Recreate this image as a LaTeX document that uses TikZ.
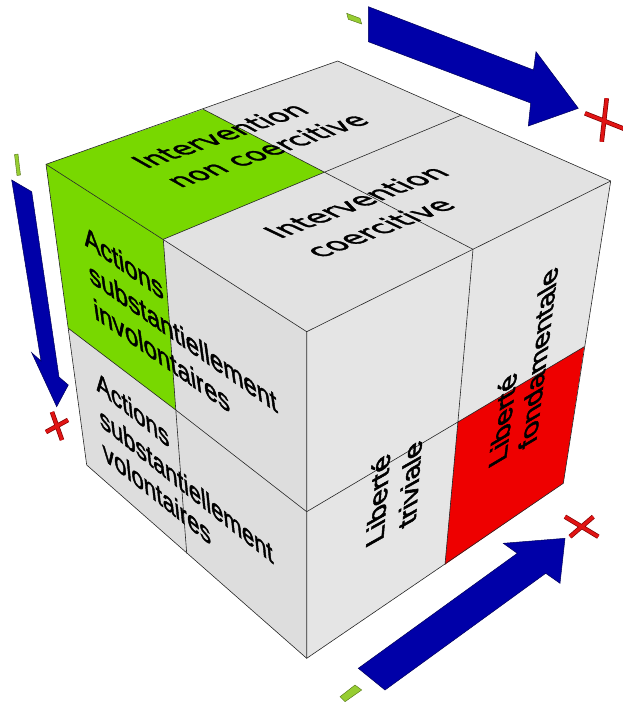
\documentclass[tikz,border=0pt]{standalone}
\usepackage{fontspec}
\setmainfont{Liberation Sans}
\newfontfamily\verd{DejaVu Sans}[FakeBold=1.6]
\newfontfamily\arl{Liberation Sans}[FakeBold=2]
\definecolor{topgray}{RGB}{226,226,226}
\definecolor{leftgray}{RGB}{221,221,221}
\definecolor{rightgray}{RGB}{229,229,229}
\definecolor{cubegreen}{RGB}{120,216,0}
\definecolor{cubered}{RGB}{238,0,0}
\definecolor{arrowblue}{RGB}{0,0,168}
\definecolor{arrowdark}{RGB}{0,0,90}
\definecolor{minusgreen}{RGB}{150,205,50}
\definecolor{minusdark}{RGB}{80,110,20}
\definecolor{plusred}{RGB}{225,20,20}
\definecolor{plusdark}{RGB}{130,0,0}
\begin{document}
\begin{tikzpicture}[x=1pt,y=1pt,
  edge/.style={draw=black!85, line width=0.6pt, line join=round},
  lbl/.style={inner sep=0pt, anchor=base west, transform shape, text=black},
  vfont/.style={font=\verd\fontsize{#1}{34}\selectfont},
  afont/.style={font=\arl\fontsize{#1}{34}\selectfont},
  blockarrow/.style={fill=arrowblue, draw=arrowdark, line width=0.5pt, line join=miter},
  minusmark/.style={fill=minusgreen, draw=minusdark, line width=0.4pt},
  plusout/.style={draw=plusdark, line width=4.6pt},
  plusin/.style={draw=plusred, line width=3.2pt}]
\useasboundingbox (0,0) rectangle (622,-704);
% cube corners
\coordinate (A) at (46,-164.3);
\coordinate (B) at (337.7,-61);
\coordinate (C) at (610.7,-181);
\coordinate (D) at (306.7,-331.7);
\coordinate (E) at (306.7,-658.3);
\coordinate (F) at (86.7,-465);
\coordinate (G) at (563.3,-483.3);
% mid points
\coordinate (ab) at (203.3,-109.3);
\coordinate (bc) at (461.7,-115);
\coordinate (ad) at (163.3,-239.3);
\coordinate (dc) at (473,-249.3);
\coordinate (tc) at (324.4,-172.2);
\coordinate (af) at (68.3,-328.3);
\coordinate (de) at (306.7,-511.7);
\coordinate (fe) at (186.7,-553.3);
\coordinate (lc) at (175.8,-410);
\coordinate (cg) at (584.3,-346.7);
\coordinate (eg) at (445,-564.5);
\coordinate (rc) at (457.9,-422);
% faces
\fill[topgray] (A)--(B)--(C)--(D)--cycle;
\fill[leftgray] (A)--(D)--(E)--(F)--cycle;
\fill[rightgray] (D)--(C)--(G)--(E)--cycle;
\fill[cubegreen] (A)--(ab)--(tc)--(ad)--cycle;
\fill[cubegreen] (A)--(ad)--(lc)--(af)--cycle;
\fill[cubered] (rc)--(cg)--(G)--(eg)--cycle;
% edges
\draw[edge] (A)--(B)--(C)--(G)--(E)--(F)--cycle;
\draw[edge] (A)--(D)--(C) (D)--(E);
\draw[edge] (ab)--(tc)--(dc) (ad)--(tc)--(bc);
\draw[edge] (ad)--(lc)--(fe) (af)--(lc)--(de);
\draw[edge] (dc)--(rc)--(eg) (de)--(rc)--(cg);
% texts on top face
\begin{scope}[shift={(146.4,-168.9)}, cm={0.9455,0.3256,-0.8713,0.4907,(0,0)}]
  \node[lbl, vfont=28.5] (t1a) at (0,0) {Intervention};
  \node[lbl, vfont=28.5] (t1b) at (0,-39) {non coercitive};
\end{scope}
\begin{scope}[shift={(280,-239)}, cm={0.9354,0.3535,-0.9022,0.4313,(0,0)}]
  \node[lbl, vfont=30] (t2a) at (0,0) {Intervention};
  \node[lbl, vfont=30] (t2b) at (0,-45) {coercitive};
\end{scope}
% texts on left face
\begin{scope}[shift={(85,-245)}, cm={0.8192,-0.5736,-0.134,0.991,(0,0)}]
  \node[lbl, afont=29.5] (t3a) at (0,0) {Actions};
  \node[lbl, afont=29.5] (t3b) at (0,-37) {substantiellement};
  \node[lbl, afont=29.5] (t3c) at (0,-74) {involontaires};
\end{scope}
\begin{scope}[shift={(96.7,-390)}, cm={0.7815,-0.6239,-0.0995,0.995,(0,0)}]
  \node[lbl, afont=28.5] (t4a) at (0,0) {Actions};
  \node[lbl, afont=28.5] (t4b) at (0,-36) {substantiellement};
  \node[lbl, afont=28.5] (t4c) at (0,-70) {volontaires};
\end{scope}
% texts on right face
\begin{scope}[shift={(383.3,-540)}, cm={0.0800,0.9968,-0.8713,-0.4907,(0,0)}]
  \node[lbl, afont=29] (t5a) at (0,0) {Liberté};
  \node[lbl, afont=29] (t5b) at (0,-37) {triviale};
\end{scope}
\begin{scope}[shift={(506,-460)}, cm={0.1250,0.9922,-0.8600,-0.5103,(0,0)}]
  \node[lbl, afont=29.5] (t6a) at (0,0) {Liberté};
  \node[lbl, afont=29.5] (t6b) at (0,-35) {fondamentale};
\end{scope}
% block arrows
\draw[blockarrow] (368.3,-6.7) -- (533.5,-70) -- (536,-51.7) -- (578.3,-108.3) -- (528.3,-126) -- (530.7,-103) -- (368.3,-41.7) -- cycle;
\draw[blockarrow] (11.7,-180) -- (41,-361) -- (31.7,-352.7) -- (56.7,-406.7) -- (68.3,-385) -- (59,-377) -- (31.7,-191.7) -- cycle;
\draw[blockarrow] (358.3,-668.3) -- (517.3,-553.3) -- (503.3,-543.3) -- (565,-538.3) -- (560,-583.3) -- (545.7,-573.3) -- (385,-690) -- cycle;
% minus marks
\draw[minusmark] (346.7,-13.3) -- (360,-18.3) -- (361.7,-24) -- (348.3,-19.3) -- cycle;
\draw[minusmark] (14.5,-154.5) -- (18,-154) -- (20.5,-175) -- (17,-175.5) -- cycle;
\draw[minusmark] (340,-696.7) -- (355,-685) -- (361.7,-690) -- (345,-701.7) -- cycle;
% plus marks
\draw[plusout] (585,-113.3) -- (624,-128.8) (606.7,-98.3) -- (601.7,-141.7);
\draw[plusin] (585,-113.3) -- (624,-128.8) (606.7,-98.3) -- (601.7,-141.7);
\draw[plusout] (52,-412) -- (62,-440) (46,-432) -- (68,-420);
\draw[plusin] (52,-412) -- (62,-440) (46,-432) -- (68,-420);
\draw[plusout] (565,-516.7) -- (598.3,-536.7) (593.3,-516.7) -- (570,-536.7);
\draw[plusin] (565,-516.7) -- (598.3,-536.7) (593.3,-516.7) -- (570,-536.7);
\end{tikzpicture}
\end{document}
